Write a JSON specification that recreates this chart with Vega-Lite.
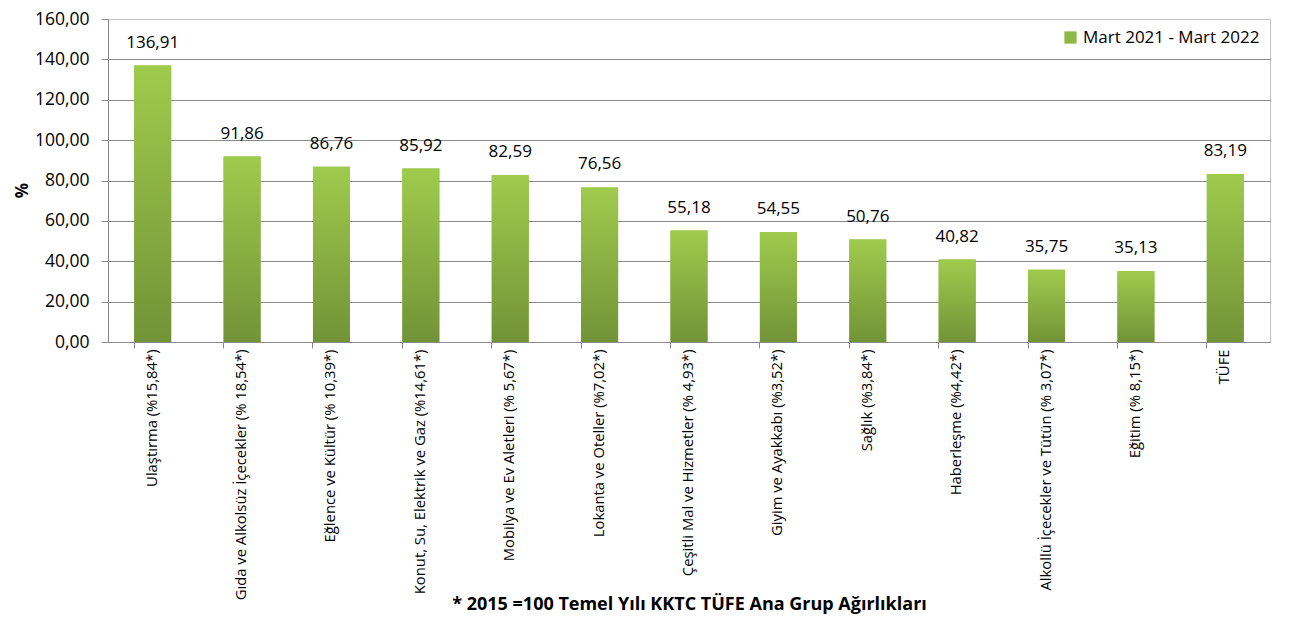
{
  "$schema": "https://vega.github.io/schema/vega-lite/v6.json",
  "width": 1162,
  "height": 323,
  "autosize": {"type": "none"},
  "padding": {"left": 108, "top": 19, "right": 20, "bottom": 279},
  "background": "white",
  "config": {
    "locale": {"number": {"decimal": ",", "thousands": ".", "grouping": [3], "currency": ["", ""]}},
    "font": "Open Sans",
    "view": {"stroke": "#c4c4c4", "strokeWidth": 1},
    "axis": {"labelColor": "#000000", "titleColor": "#000000"}
  },
  "data": {
    "values": [
      {"grup": "Ulaştırma (%15,84*)", "deger": 136.91, "seri": "Mart 2021 - Mart 2022"},
      {"grup": "Gıda ve Alkolsüz İçecekler (% 18,54*)", "deger": 91.86, "seri": "Mart 2021 - Mart 2022"},
      {"grup": "Eğlence ve Kültür (% 10,39*)", "deger": 86.76, "seri": "Mart 2021 - Mart 2022"},
      {"grup": "Konut, Su, Elektrik ve Gaz (%14,61*)", "deger": 85.92, "seri": "Mart 2021 - Mart 2022"},
      {"grup": "Mobilya ve Ev Aletleri (% 5,67*)", "deger": 82.59, "seri": "Mart 2021 - Mart 2022"},
      {"grup": "Lokanta ve Oteller (%7,02*)", "deger": 76.56, "seri": "Mart 2021 - Mart 2022"},
      {"grup": "Çeşitli Mal ve Hizmetler (% 4,93*)", "deger": 55.18, "seri": "Mart 2021 - Mart 2022"},
      {"grup": "Giyim ve Ayakkabı (%3,52*)", "deger": 54.55, "seri": "Mart 2021 - Mart 2022"},
      {"grup": "Sağlık (%3,84*)", "deger": 50.76, "seri": "Mart 2021 - Mart 2022"},
      {"grup": "Haberleşme (%4,42*)", "deger": 40.82, "seri": "Mart 2021 - Mart 2022"},
      {"grup": "Alkollü İçecekler ve Tütün (% 3,07*)", "deger": 35.75, "seri": "Mart 2021 - Mart 2022"},
      {"grup": "Eğitim (% 8,15*)", "deger": 35.13, "seri": "Mart 2021 - Mart 2022"},
      {"grup": "TÜFE", "deger": 83.19, "seri": "Mart 2021 - Mart 2022"}
    ]
  },
  "resolve": {"axis": {"x": "independent"}},
  "layer": [
    {
      "mark": {"type": "bar"},
      "encoding": {
        "x": {
          "field": "grup", "type": "nominal", "sort": null,
          "scale": {"paddingInner": 0.586, "paddingOuter": 0.293},
          "axis": {
            "orient": "bottom",
            "labelAngle": -90, "labelFontSize": 14.8, "labelLimit": 400, "labelPadding": 7,
            "ticks": false, "domain": false, "grid": false,
            "title": "*  2015 =100 Temel Yılı KKTC TÜFE Ana Grup Ağırlıkları",
            "titleFontSize": 18, "titleFontWeight": "bold",
            "titleY": 262, "titleBaseline": "middle"
          }
        },
        "y": {
          "field": "deger", "type": "quantitative",
          "scale": {"domain": [0, 160]},
          "axis": {
            "values": [0, 20, 40, 60, 80, 100, 120, 140, 160],
            "format": ".2f",
            "labelFontSize": 17.5, "labelPadding": 12,
            "tickSize": 7, "tickColor": "#8a8a8a",
            "domainColor": "#8a8a8a",
            "gridColor": {"condition": {"test": "datum.value >= 160", "value": "#c4c4c4"}, "value": "#8a8a8a"},
            "title": "%", "titleFontSize": 17, "titleFontWeight": "bold",
            "titleX": -86, "titleY": 171, "titleBaseline": "middle"
          }
        },
        "color": {
          "field": "seri", "type": "nominal",
          "scale": {"range": ["#8cb844"]},
          "legend": {
            "title": null, "orient": "top-right", "offset": 10,
            "labelFontSize": 17, "labelColor": "#000000", "labelLimit": 400,
            "symbolType": "square", "symbolSize": 150, "symbolStrokeWidth": 0
          }
        }
      }
    },
    {
      "mark": {
        "type": "bar",
        "color": {
          "gradient": "linear", "x1": 0, "y1": 0, "x2": 0, "y2": 1,
          "stops": [
            {"offset": 0, "color": "#9fcb4d"},
            {"offset": 1, "color": "#729337"}
          ]
        }
      },
      "encoding": {
        "x": {
          "field": "grup", "type": "nominal", "sort": null,
          "axis": {
            "orient": "bottom", "bandPosition": 0,
            "labels": false, "ticks": true, "tickSize": 6, "tickColor": "#8a8a8a",
            "domain": true, "domainColor": "#8a8a8a", "grid": false, "title": null
          }
        },
        "y": {"field": "deger", "type": "quantitative"}
      }
    },
    {
      "mark": {"type": "text", "baseline": "alphabetic", "dy": -18, "fontSize": 17, "color": "#000000"},
      "encoding": {
        "x": {"field": "grup", "type": "nominal", "sort": null, "axis": null},
        "y": {"field": "deger", "type": "quantitative"},
        "text": {"field": "deger", "type": "quantitative", "format": ".2f"}
      }
    }
  ]
}
